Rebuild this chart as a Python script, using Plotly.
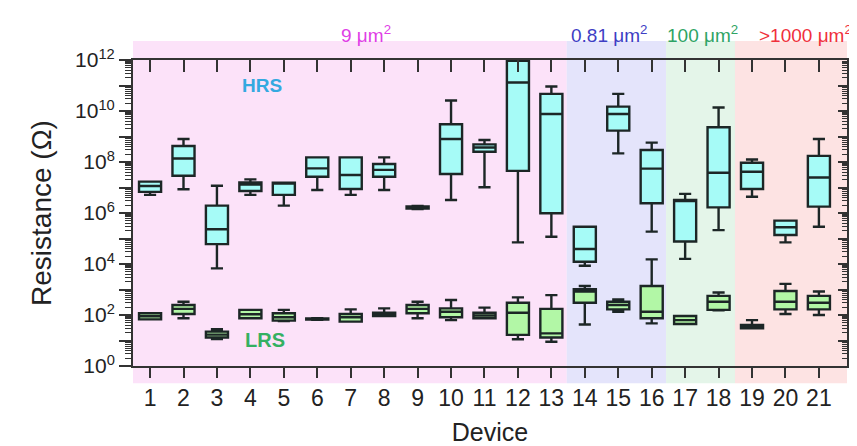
import plotly.graph_objects as go

devices = list(range(1, 22))

# HRS statistics, log10(Resistance / Ohm)
hrs_low = [6.71, 6.93, 3.83, 6.71, 6.29, 6.90, 6.71, 6.90, 6.15, 6.51, 7.01, 4.85, 5.07, 3.93, 8.34, 5.27, 4.20, 5.33, 6.64, 4.85, 5.46]
hrs_q1 = [6.83, 7.46, 4.78, 6.86, 6.71, 7.42, 6.94, 7.42, 6.17, 7.53, 8.40, 7.65, 5.99, 4.09, 9.23, 6.38, 4.88, 6.22, 6.94, 5.14, 6.25]
hrs_med = [7.06, 8.14, 5.36, 7.12, 7.17, 7.75, 7.49, 7.69, 6.22, 8.90, 8.57, 11.12, 9.88, 4.59, 9.88, 7.74, 6.48, 7.58, 7.62, 5.44, 7.39]
hrs_q3 = [7.23, 8.63, 6.29, 7.20, 7.19, 8.18, 8.18, 7.92, 6.26, 9.48, 8.69, 11.97, 10.67, 5.46, 10.17, 8.47, 6.51, 9.36, 7.97, 5.70, 8.24]
hrs_high = [7.23, 8.90, 7.07, 7.32, 7.19, 8.18, 8.18, 8.18, 6.28, 10.41, 8.86, 12.0, 10.96, 5.46, 10.67, 8.76, 6.75, 10.14, 8.10, 5.70, 8.90]

# LRS statistics, log10(Resistance / Ohm)
lrs_low = [1.83, 1.87, 1.06, 1.87, 1.76, 1.81, 1.74, 1.96, 1.87, 1.80, 1.87, 1.05, 0.95, 1.63, 2.13, 1.67, 1.65, 2.18, 1.48, 2.04, 2.00]
lrs_q1 = [1.83, 2.04, 1.12, 1.87, 1.78, 1.82, 1.74, 1.96, 2.07, 1.91, 1.87, 1.22, 1.12, 2.48, 2.22, 1.87, 1.65, 2.20, 1.48, 2.22, 2.22]
lrs_med = [1.95, 2.24, 1.23, 2.03, 1.91, 1.84, 1.91, 2.09, 2.24, 2.13, 1.98, 2.09, 1.28, 2.92, 2.39, 2.13, 1.80, 2.52, 1.54, 2.52, 2.48]
lrs_q3 = [2.07, 2.39, 1.35, 2.20, 2.07, 1.86, 2.04, 2.09, 2.39, 2.26, 2.09, 2.48, 2.24, 3.01, 2.52, 3.14, 1.96, 2.75, 1.61, 2.94, 2.75]
lrs_high = [2.07, 2.52, 1.44, 2.20, 2.20, 1.87, 2.22, 2.26, 2.52, 2.59, 2.29, 2.69, 2.78, 3.14, 2.61, 4.18, 1.96, 2.88, 1.80, 3.22, 2.92]

y_decades = list(range(0, 13))
y_ticktext = [f"10<sup>{d}</sup>" if d % 2 == 0 else "" for d in y_decades]

regions = [
    {"label": "9 μm<sup>2</sup>", "x0": 0.49, "x1": 13.46, "fill": "#fce2f9", "color": "#e03ee6"},
    {"label": "0.81 μm<sup>2</sup>", "x0": 13.46, "x1": 16.43, "fill": "#e4e4fb", "color": "#3e3ec4"},
    {"label": "100 μm<sup>2</sup>", "x0": 16.43, "x1": 18.49, "fill": "#e4f5e9", "color": "#2ea464"},
    {"label": ">1000 μm<sup>2</sup>", "x0": 18.49, "x1": 21.95, "fill": "#fde3e3", "color": "#f0303c"},
]

def p(v):
    return [10 ** a for a in v]

LINE = "#1c2626"
FONT = "Liberation Sans, Arial, sans-serif"
XR = [0.49, 21.84]

fig = go.Figure()
fig.add_trace(go.Box(
    x=devices, q1=p(hrs_q1), median=p(hrs_med), q3=p(hrs_q3),
    lowerfence=p(hrs_low), upperfence=p(hrs_high),
    fillcolor="#a6fbf7", line=dict(color=LINE, width=2.4),
    width=0.66, whiskerwidth=0.55, boxpoints=False, showlegend=False, name="HRS"))
fig.add_trace(go.Box(
    x=devices, q1=p(lrs_q1), median=p(lrs_med), q3=p(lrs_q3),
    lowerfence=p(lrs_low), upperfence=p(lrs_high),
    fillcolor="#b2f7a6", line=dict(color=LINE, width=2.4),
    width=0.66, whiskerwidth=0.55, boxpoints=False, showlegend=False, name="LRS"))
fig.add_trace(go.Scatter(x=[None], y=[None], xaxis="x2", yaxis="y2", showlegend=False))

for r in regions:
    fig.add_shape(type="rect", xref="x", yref="paper", x0=r["x0"], x1=r["x1"],
                  y0=-0.056, y1=1.062, fillcolor=r["fill"], line=dict(width=0), layer="below")

ann_x = [366, 609, 702, 757]
for r, ax in zip(regions, ann_x):
    fig.add_annotation(x=(ax - 133) / 714, y=(366 - 20) / 306, xref="paper", yref="paper",
                       text=r["label"], showarrow=False, xanchor="left" if ax == 757 else "center",
                       font=dict(family=FONT, size=19, color=r["color"]))

fig.add_annotation(x=4.35, y=11.0, xref="x", yref="y", text="<b>HRS</b>", showarrow=False,
                   font=dict(family=FONT, size=19, color="#34a9e0"))
fig.add_annotation(x=4.45, y=1.02, xref="x", yref="y", text="<b>LRS</b>", showarrow=False,
                   font=dict(family=FONT, size=20, color="#34b062"))

# page body has an 8px margin: figure is placed at (8, 8) in the window
fig.update_layout(
    width=849, height=438,
    margin=dict(l=125, r=10, t=52, b=80),
    paper_bgcolor="white", plot_bgcolor="rgba(0,0,0,0)",
    boxmode="overlay",
    font=dict(family=FONT, color="#222"),
    xaxis=dict(range=XR, tickmode="array", tickvals=devices, ticktext=[str(d) for d in devices],
               ticks="outside", ticklen=10, tickwidth=1.5, tickcolor="#333", automargin=False,
               showline=True, linecolor="#333", linewidth=2, showgrid=False, zeroline=False,
               tickfont=dict(size=23, color="#222"),
               title=dict(text="Device", font=dict(size=25, color="#222"))),
    xaxis2=dict(overlaying="x", side="top", range=XR, tickmode="array", tickvals=devices,
                ticks="inside", ticklen=12, tickwidth=1.5, tickcolor="#333", showticklabels=False,
                showline=True, linecolor="#333", linewidth=2, showgrid=False, zeroline=False),
    yaxis=dict(type="log", range=[0, 12], tickmode="array", tickvals=[10 ** d for d in y_decades],
               ticktext=y_ticktext, ticks="outside", ticklen=12, tickwidth=1.5, tickcolor="#333",
               automargin=False,
               minor=dict(tickvals=[m * 10 ** d for d in range(0, 12) for m in range(2, 10)],
                          ticks="outside", ticklen=6, tickwidth=1, tickcolor="#333", showgrid=False),
               showline=True, linecolor="#333", linewidth=2, showgrid=False, zeroline=False,
               tickfont=dict(size=21, color="#222"),
               title=dict(text="Resistance (Ω)", font=dict(size=28, color="#222"))),
    yaxis2=dict(type="log", overlaying="y", side="right", range=[0, 12], tickmode="array",
                tickvals=[10 ** d for d in y_decades], ticks="inside", ticklen=9, tickwidth=1.5,
                tickcolor="#333", showticklabels=False,
                minor=dict(tickvals=[m * 10 ** d for d in range(0, 12) for m in range(2, 10)],
                           ticks="inside", ticklen=5, tickwidth=1, tickcolor="#333", showgrid=False),
                showline=True, linecolor="#333", linewidth=2, showgrid=False, zeroline=False),
)

fig.write_html("out.html")
